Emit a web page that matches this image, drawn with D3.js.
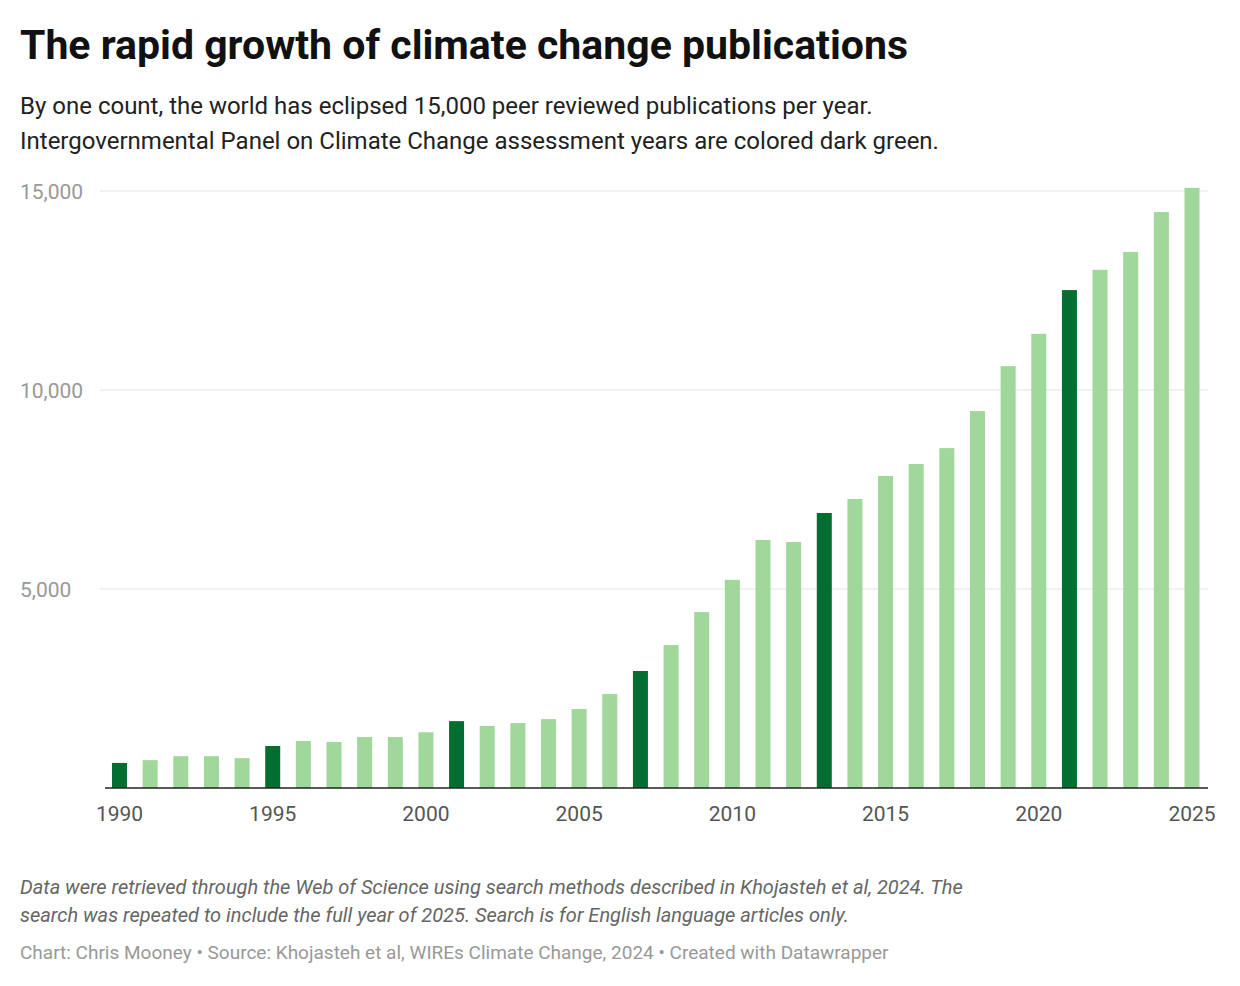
<!DOCTYPE html>
<html><head><meta charset="utf-8">
<script src="https://cdn.jsdelivr.net/npm/d3@7"></script>
<style>body{margin:0;background:#fff;font-family:Roboto,sans-serif}</style>
</head><body><div id="chart"></div>
<script>
var years = d3.range(1990, 2026);
var values = [630,700,800,800,750,1055,1180,1155,1280,1280,1400,1680,1560,1630,1730,1985,2360,2940,3590,4420,5230,6230,6180,6910,7260,7840,8140,8540,9470,10600,11410,12510,13020,13470,14470,15080];
var ipccYears = [1990,1995,2001,2007,2013,2021];
var yTicks = [5000,10000,15000];
var xTicks = [1990,1995,2000,2005,2010,2015,2020,2025];

var width = 1240, height = 986;
var svg = d3.select("#chart").append("svg").attr("width", width).attr("height", height);

svg.append("text").attr("x", 20).attr("y", 59).attr("font-size", 41).attr("font-weight", 700).attr("fill", "#111")
  .text("The rapid growth of climate change publications");
svg.append("text").attr("x", 20).attr("y", 114).attr("font-size", 24).attr("fill", "#222")
  .text("By one count, the world has eclipsed 15,000 peer reviewed publications per year.");
svg.append("text").attr("x", 20).attr("y", 149).attr("font-size", 24).attr("fill", "#222")
  .text("Intergovernmental Panel on Climate Change assessment years are colored dark green.");

var y = d3.scaleLinear().domain([0, 15000]).range([788, 191]);
var x = d3.scaleLinear().domain([1990, 2025]).range([119.5, 1192]);

svg.selectAll(".grid").data(yTicks).enter().append("line")
  .attr("x1", 100).attr("x2", 1208).attr("y1", d => y(d)).attr("y2", d => y(d))
  .attr("stroke", "#e2e2e2").attr("stroke-width", 1);
svg.selectAll(".ylab").data(yTicks).enter().append("text")
  .attr("x", 20).attr("y", d => y(d) + 8).attr("font-size", 21).attr("fill", "#999")
  .text(d => d3.format(",")(d));

svg.selectAll(".bar").data(years).enter().append("rect")
  .attr("x", d => x(d) - 7.5).attr("width", 15)
  .attr("y", (d, i) => y(values[i])).attr("height", (d, i) => y(0) - y(values[i]))
  .attr("fill", d => ipccYears.indexOf(d) >= 0 ? "#026e2f" : "#9fd89a");

svg.append("line").attr("x1", 105).attr("x2", 1208).attr("y1", y(0)).attr("y2", y(0))
  .attr("stroke", "#222").attr("stroke-width", 1.5);

svg.selectAll(".xlab").data(xTicks).enter().append("text")
  .attr("x", d => x(d)).attr("y", 821).attr("text-anchor", "middle")
  .attr("font-size", 21).attr("fill", "#555").text(d => d);

svg.append("text").attr("x", 20).attr("y", 894).attr("font-size", 20).attr("font-style", "italic").attr("fill", "#666")
  .text("Data were retrieved through the Web of Science using search methods described in Khojasteh et al, 2024. The");
svg.append("text").attr("x", 20).attr("y", 922).attr("font-size", 20).attr("font-style", "italic").attr("fill", "#666")
  .text("search was repeated to include the full year of 2025. Search is for English language articles only.");
svg.append("text").attr("x", 20).attr("y", 959).attr("font-size", 19).attr("fill", "#999")
  .text("Chart: Chris Mooney • Source: Khojasteh et al, WIREs Climate Change, 2024 • Created with Datawrapper");
</script></body></html>
